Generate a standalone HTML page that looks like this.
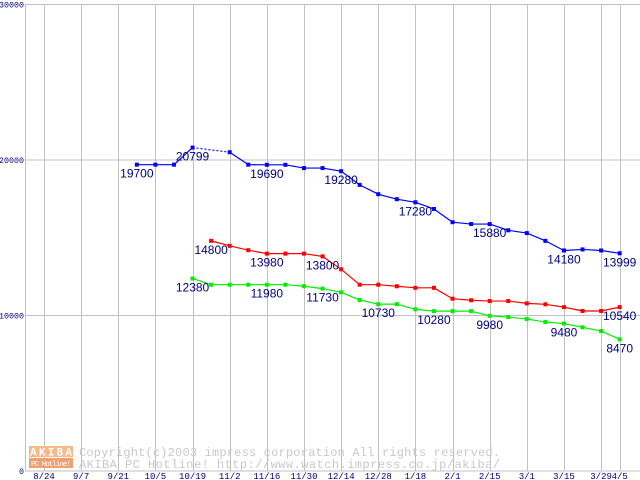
<!DOCTYPE html>
<html><head><meta charset="utf-8"><style>
body{margin:0;background:#fff}
svg{display:block}
text{font-family:"Liberation Mono","DejaVu Sans Mono",monospace}
text.val{font-family:"Liberation Sans",sans-serif}
</style></head><body>
<svg id="chart" width="640" height="480" xmlns="http://www.w3.org/2000/svg">
<g id="grid"></g>
<g id="wm">
<rect x="29" y="446" width="44" height="11" fill="#f8b888"/>
<text x="51" y="455.5" font-size="11" fill="#fff" text-anchor="middle" font-weight="bold" textLength="42">AKIBA</text>
<rect x="29" y="458" width="44" height="10" fill="#f0a070"/>
<text x="51" y="466" font-size="7.5" fill="#fff" text-anchor="middle" textLength="40">PC Hotline!</text>
<text x="79" y="456" font-size="12" fill="#c8c8c8" textLength="421">Copyright(c)2003 impress corporation All rights reserved.</text>
<text x="79" y="468" font-size="12" fill="#c8c8c8" textLength="421">AKIBA PC Hotline!  http://www.watch.impress.co.jp/akiba/</text>
</g>
<g id="plot"></g>
</svg>
<script>
const xLabels=["8/24","9/7","9/21","10/5","10/19","11/2","11/16","11/30","12/14","12/28","1/18","2/1","2/15","3/1","3/15","3/29","4/5"];
const xLabelIdx=[0,2,4,6,8,10,12,14,16,18,20,22,24,26,28,30,31];
const yTicks=[0,10000,20000,30000];
const blueIdx=[5,6,7,8,10,11,12,13,14,15,16,17,18,19,20,21,22,23,24,25,26,27,28,29,30,31];
const blueVals=[19700,19700,19700,20799,20500,19700,19690,19690,19480,19480,19280,18400,17800,17480,17280,16850,16000,15880,15880,15480,15300,14800,14180,14250,14180,13999];
const redIdx=[9,10,11,12,13,14,15,16,17,18,19,20,21,22,23,24,25,26,27,28,29,30,31];
const redVals=[14800,14480,14200,13980,13980,13980,13800,12970,11980,11980,11880,11780,11780,11080,10980,10930,10930,10780,10720,10540,10290,10290,10540];
const greenIdx=[8,9,10,11,12,13,14,15,16,17,18,19,20,21,22,23,24,25,26,27,28,29,30,31];
const greenVals=[12380,11980,11980,11980,11980,11980,11880,11730,11490,11000,10730,10730,10400,10280,10280,10280,9980,9900,9780,9580,9480,9240,9000,8470];
const blueLabels=[[5,19700],[8,20799],[12,19690],[16,19280],[20,17280],[24,15880],[28,14180],[31,13999]];
const redLabels=[[9,14800],[12,13980],[15,13800],[31,10540]];
const greenLabels=[[8,12380],[12,11980],[15,11730],[18,10730],[21,10280],[24,9980],[28,9480],[31,8470]];

const NS="http://www.w3.org/2000/svg";
const X=i=>44+i*18.57;
const Y=v=>471-v*0.01555;
function mk(tag,attrs,parent){const e=document.createElementNS(NS,tag);for(const k in attrs)e.setAttribute(k,attrs[k]);parent.appendChild(e);return e;}
const grid=document.getElementById('grid'),plot=document.getElementById('plot');
yTicks.forEach(t=>{
  const l=mk('line',{x1:25,x2:640,y1:Y(t),y2:Y(t),stroke:'#c0c0c0','stroke-width':1},grid);
  
  
  const s=String(t);
  const tx=mk('text',{x:24,y:Y(t)+3,'font-size':8.5,fill:'#000080','text-anchor':'end',textLength:s.length*5,lengthAdjust:'spacingAndGlyphs'},grid);
  tx.textContent=s;
  
  
});
const ax=mk('line',{x1:25.5,x2:25.5,y1:4,y2:471,stroke:'#c0c0c0'},grid);


xLabelIdx.forEach((i,k)=>{
  const l=mk('line',{x1:Math.round(X(i))+0.5,x2:Math.round(X(i))+0.5,y1:4,y2:471,stroke:'#c0c0c0'},grid);
  
  
  const tx=mk('text',{x:X(i),y:479,'font-size':9,fill:'#000080','text-anchor':'middle'},grid);
  tx.textContent=xLabels[k];
  
  
});
function series(idx,vals,color,name,labels){
  const g=mk('g',{},plot);
  
  
  for(let k=1;k<idx.length;k++){
    const gap=idx[k]-idx[k-1]>1;
    const l=mk('line',{x1:X(idx[k-1]),y1:Y(vals[k-1]),x2:X(idx[k]),y2:Y(vals[k]),stroke:color,'stroke-width':1.2},g);
    if(gap)l.setAttribute('stroke-dasharray','2,2');
    
    
  }
  idx.forEach((i,k)=>{
    const r=mk('rect',{x:X(i)-2,y:Y(vals[k])-2,width:4,height:4,fill:color},g);
    
    
  });
  labels.forEach(([i,v])=>{
    const k=idx.indexOf(i);const yv=k>=0?vals[k]:v;
    const tx=mk('text',{x:X(i),y:Y(yv)+13,'font-size':12,fill:'#000080','text-anchor':'middle','class':'val'},g);
    tx.style.fontFamily='"Liberation Sans", sans-serif';
    tx.textContent=String(v);
    
    
  });
}
series(blueIdx,blueVals,'#0000ff','blue',blueLabels);
series(redIdx,redVals,'#ff0000','red',redLabels);
series(greenIdx,greenVals,'#00ee00','green',greenLabels);
</script>
</body></html>
